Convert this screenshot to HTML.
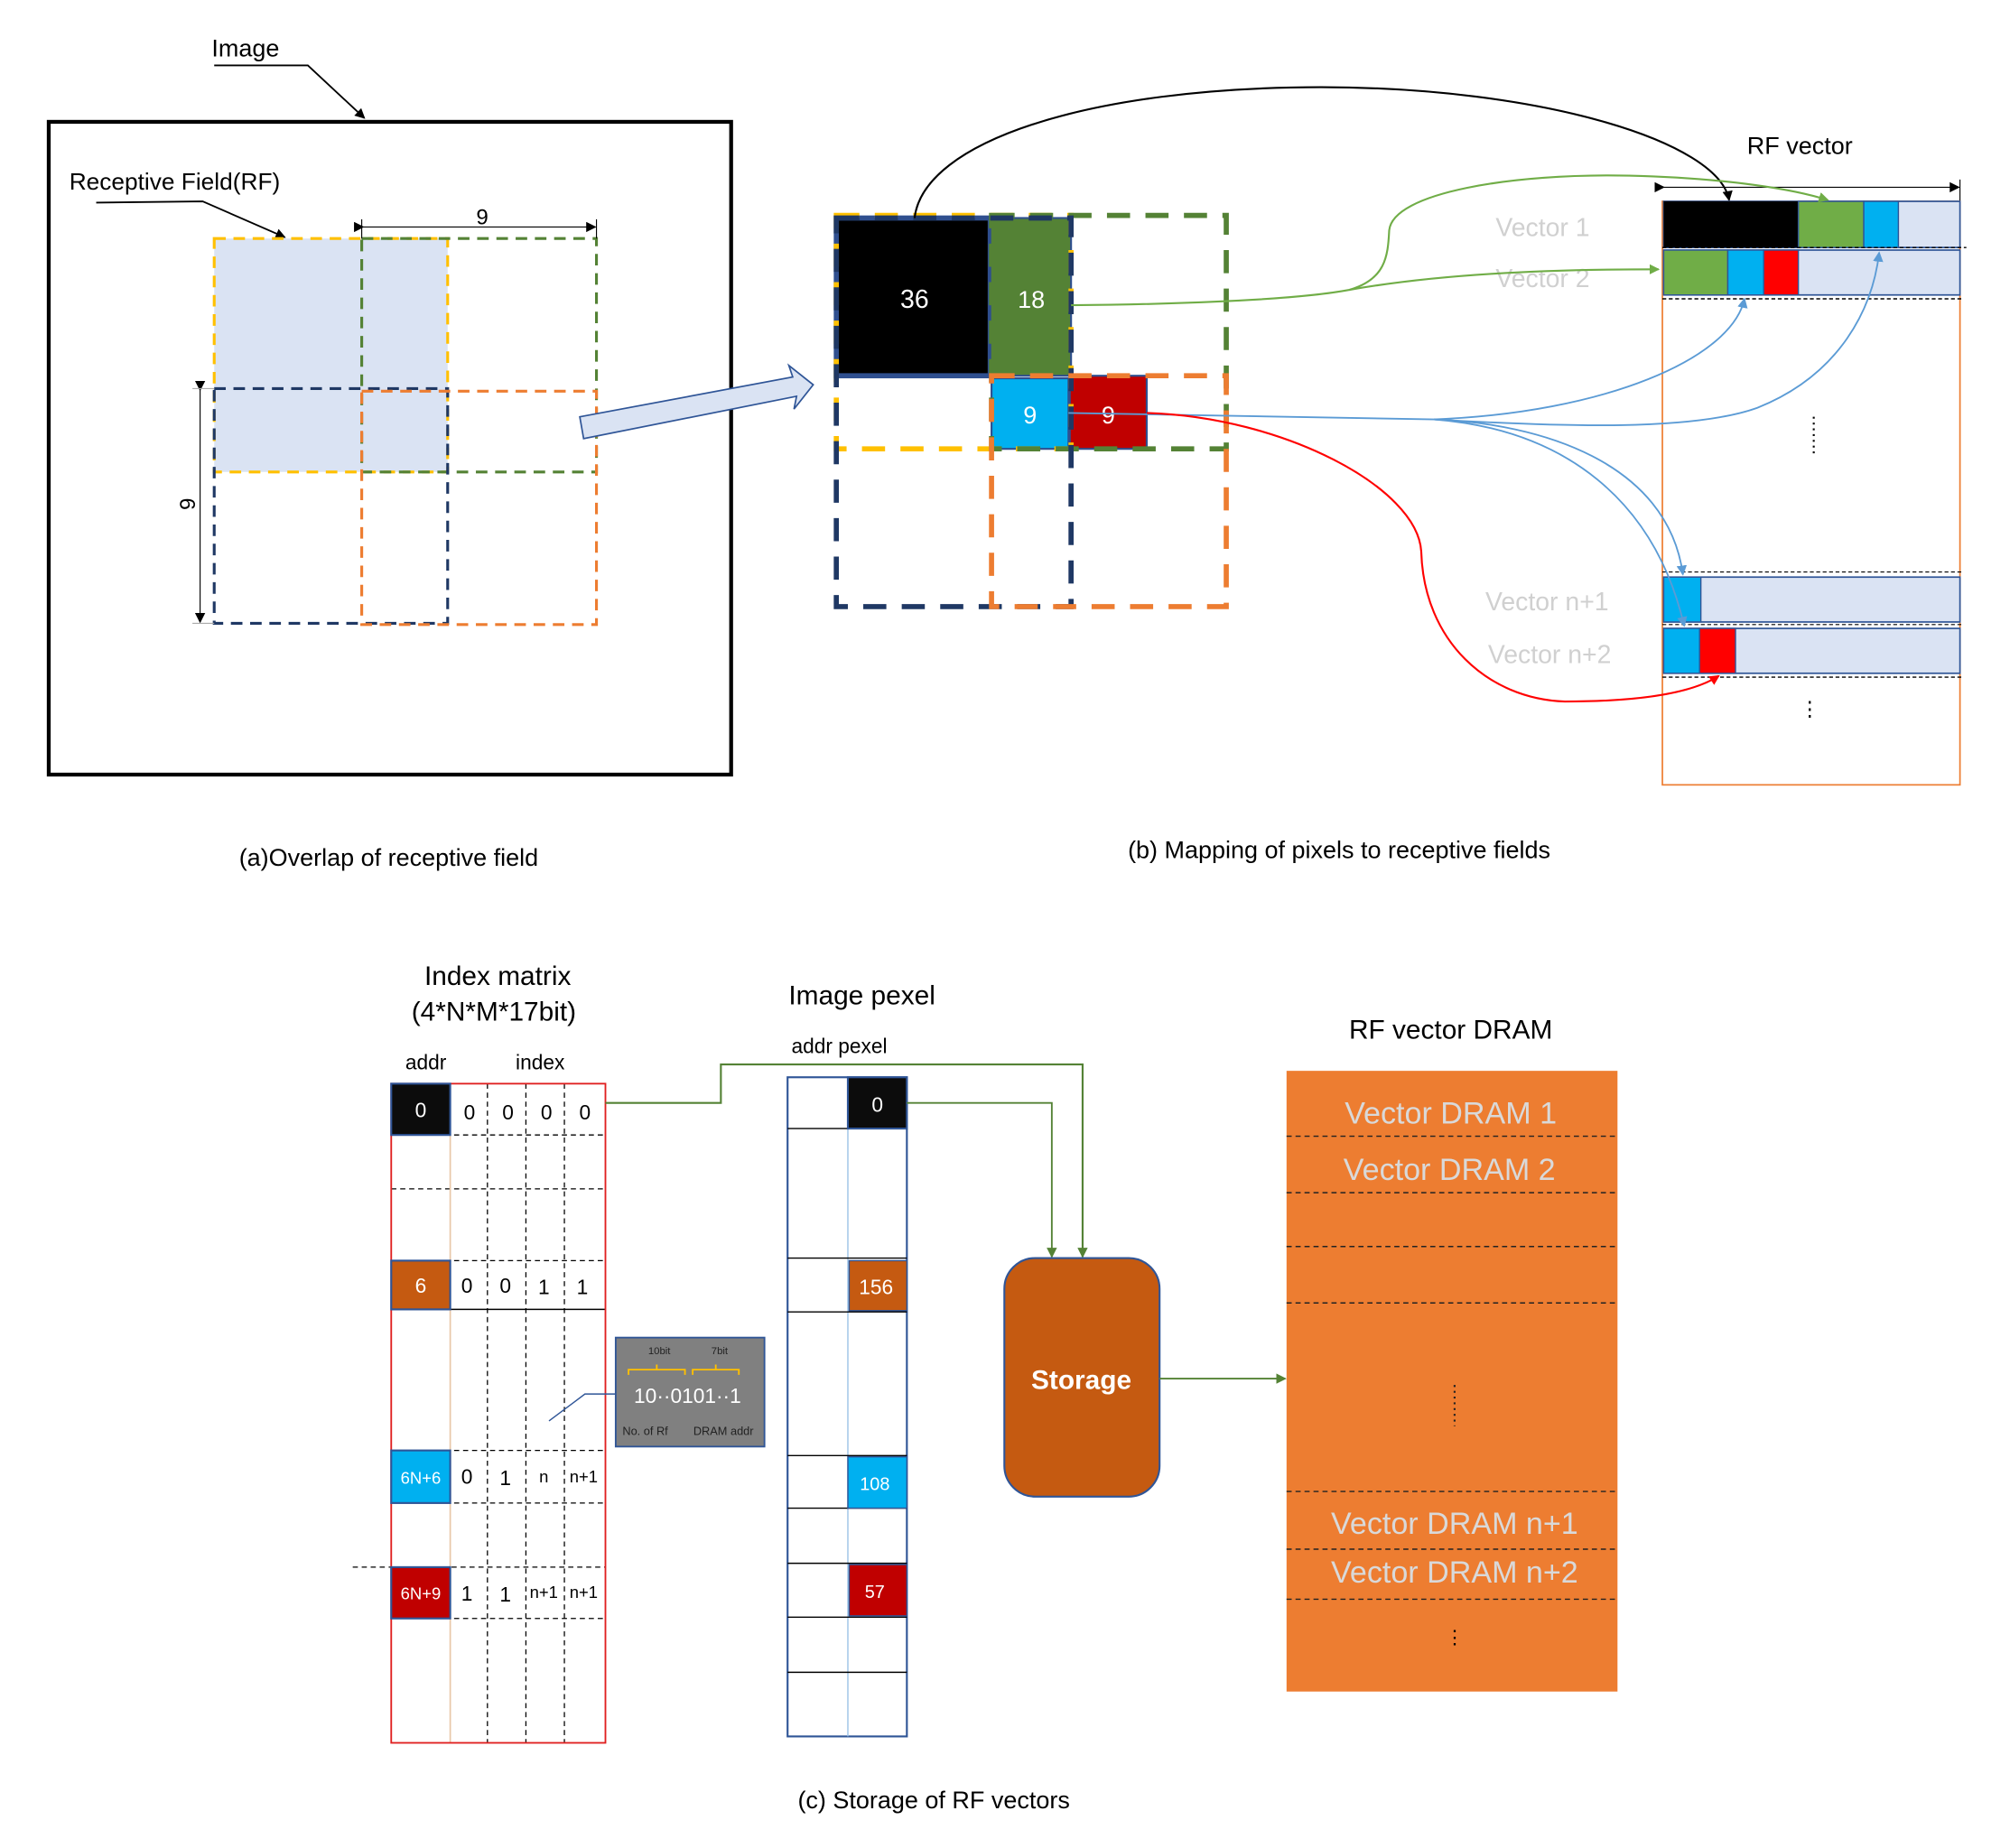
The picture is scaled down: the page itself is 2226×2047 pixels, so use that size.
<!DOCTYPE html>
<html><head><meta charset="utf-8"><style>html,body{margin:0;padding:0;background:#fff}svg{display:block}</style></head>
<body>
<svg width="2226" height="2047" viewBox="0 0 1567 1441" preserveAspectRatio="none" xmlns="http://www.w3.org/2000/svg" font-family="Liberation Sans, sans-serif">
<defs>
<marker id="ak" markerWidth="8" markerHeight="8" refX="7" refY="4" orient="auto" markerUnits="userSpaceOnUse"><path d="M0,0 L8,4 L0,8z" fill="#000"/></marker>
<marker id="ag" markerWidth="8" markerHeight="8" refX="7" refY="4" orient="auto" markerUnits="userSpaceOnUse"><path d="M0,0 L8,4 L0,8z" fill="#70ad47"/></marker>
<marker id="adg" markerWidth="8" markerHeight="8" refX="7" refY="4" orient="auto" markerUnits="userSpaceOnUse"><path d="M0,0 L8,4 L0,8z" fill="#548235"/></marker>
<marker id="ab" markerWidth="8" markerHeight="8" refX="7" refY="4" orient="auto" markerUnits="userSpaceOnUse"><path d="M0,0 L8,4 L0,8z" fill="#5b9bd5"/></marker>
<marker id="ar" markerWidth="8" markerHeight="8" refX="7" refY="4" orient="auto" markerUnits="userSpaceOnUse"><path d="M0,0 L8,4 L0,8z" fill="#ff0000"/></marker>
</defs>

<!-- (a) -->
<text x="165" y="44" font-size="19">Image</text>
<polyline points="167,51 240,51 284,92" fill="none" stroke="#000" stroke-width="1.3" marker-end="url(#ak)"/>
<rect x="38" y="95" width="532" height="509" fill="none" stroke="#000" stroke-width="3"/>
<text x="54" y="148" font-size="18.5">Receptive Field(RF)</text>
<polyline points="75,158 158,157 222,185" fill="none" stroke="#000" stroke-width="1.3" marker-end="url(#ak)"/>
<rect x="167" y="186" width="182" height="182" fill="#dae3f3"/>
<rect x="167" y="186" width="182" height="182" fill="none" stroke="#ffc000" stroke-width="2.2" stroke-dasharray="9,6"/>
<rect x="282" y="186" width="183" height="182" fill="none" stroke="#548235" stroke-width="2.2" stroke-dasharray="9,6"/>
<rect x="167" y="303" width="182" height="183" fill="none" stroke="#1f3864" stroke-width="2.2" stroke-dasharray="9,6"/>
<rect x="282" y="305" width="183" height="182" fill="none" stroke="#ed7d31" stroke-width="2.2" stroke-dasharray="9,6"/>
<line x1="283" y1="177" x2="464" y2="177" stroke="#000" stroke-width="0.8" marker-start="url(#ak)" marker-end="url(#ak)"/>
<line x1="282" y1="171" x2="282" y2="186" stroke="#000" stroke-width="0.8"/>
<line x1="465" y1="171" x2="465" y2="186" stroke="#000" stroke-width="0.8"/>
<text x="376" y="175" font-size="17" text-anchor="middle">9</text>
<line x1="156" y1="304" x2="156" y2="485" stroke="#000" stroke-width="0.8" marker-start="url(#ak)" marker-end="url(#ak)"/>
<line x1="150" y1="303" x2="167" y2="303" stroke="#aaa" stroke-width="0.8"/>
<line x1="150" y1="486" x2="167" y2="486" stroke="#aaa" stroke-width="0.8"/>
<text x="146" y="393" font-size="17" text-anchor="middle" transform="rotate(-90 146 393)" dy="6">9</text>
<path d="M452,325 L618,294 L615,285 L634,300 L619,319 L621,309 L455,342 Z" fill="#dae3f3" stroke="#2f5597" stroke-width="1.2"/>
<text x="303" y="675" font-size="19" text-anchor="middle">(a)Overlap of receptive field</text>

<!-- (b) -->
<rect x="652" y="170" width="120" height="123" fill="#000" stroke="#2f4f8f" stroke-width="4"/>
<text x="713" y="240" font-size="20" fill="#fff" text-anchor="middle">36</text>
<rect x="772" y="170" width="63" height="123" fill="#548235" stroke="#2f4f8f" stroke-width="1.5"/>
<text x="804" y="240" font-size="19" fill="#fff" text-anchor="middle">18</text>
<rect x="773" y="295" width="60" height="55" fill="#00b0f0" stroke="#2f4f8f" stroke-width="1.5"/>
<text x="803" y="330" font-size="19" fill="#fff" text-anchor="middle">9</text>
<rect x="834" y="293" width="60" height="57" fill="#c00000" stroke="#2f4f8f" stroke-width="1.5"/>
<text x="864" y="330" font-size="19" fill="#fff" text-anchor="middle">9</text>
<rect x="652" y="168" width="183" height="182" fill="none" stroke="#ffc000" stroke-width="4" stroke-dasharray="18,12"/>
<rect x="773" y="168" width="183" height="182" fill="none" stroke="#548235" stroke-width="4" stroke-dasharray="18,12"/>
<rect x="652" y="170" width="183" height="303" fill="none" stroke="#1f3864" stroke-width="4" stroke-dasharray="18,12"/>
<rect x="773" y="293" width="183" height="180" fill="none" stroke="#ed7d31" stroke-width="4" stroke-dasharray="18,12"/>

<text x="1362" y="120" font-size="19">RF vector</text>
<line x1="1297" y1="146" x2="1527" y2="146" stroke="#000" stroke-width="0.8" marker-start="url(#ak)" marker-end="url(#ak)"/>
<line x1="1528" y1="140" x2="1528" y2="157" stroke="#000" stroke-width="0.8"/>
<rect x="1296" y="157" width="232" height="455" fill="none" stroke="#ed7d31" stroke-width="1.2"/>
<rect x="1297" y="157" width="231" height="36" fill="#dae3f3" stroke="#2f5597" stroke-width="1.2"/>
<rect x="1297" y="157" width="105" height="36" fill="#000"/>
<rect x="1402" y="157" width="51" height="36" fill="#70ad47" stroke="#2f5597" stroke-width="1"/>
<rect x="1453" y="157" width="27" height="36" fill="#00b0f0" stroke="#2f5597" stroke-width="1"/>
<line x1="1296" y1="193" x2="1533" y2="193" stroke="#000" stroke-width="1" stroke-dasharray="3,2"/>
<rect x="1297" y="195" width="231" height="35" fill="#dae3f3" stroke="#2f5597" stroke-width="1.2"/>
<rect x="1297" y="195" width="50" height="35" fill="#70ad47" stroke="#2f5597" stroke-width="1"/>
<rect x="1347" y="195" width="28" height="35" fill="#00b0f0" stroke="#2f5597" stroke-width="1"/>
<rect x="1375" y="195" width="27" height="35" fill="#ff0000" stroke="#2f5597" stroke-width="1"/>
<line x1="1296" y1="233" x2="1530" y2="233" stroke="#000" stroke-width="1" stroke-dasharray="3,2"/>
<line x1="1414" y1="325" x2="1414" y2="356" stroke="#000" stroke-width="1.5" stroke-dasharray="1.5,3"/>
<line x1="1296" y1="446" x2="1530" y2="446" stroke="#000" stroke-width="0.8" stroke-dasharray="3,2"/>
<rect x="1297" y="450" width="231" height="35" fill="#dae3f3" stroke="#2f5597" stroke-width="1.2"/>
<rect x="1297" y="450" width="29" height="35" fill="#00b0f0" stroke="#2f5597" stroke-width="1"/>
<line x1="1296" y1="487" x2="1530" y2="487" stroke="#000" stroke-width="0.8" stroke-dasharray="3,2"/>
<rect x="1297" y="490" width="231" height="35" fill="#dae3f3" stroke="#2f5597" stroke-width="1.2"/>
<rect x="1297" y="490" width="28" height="35" fill="#00b0f0" stroke="#2f5597" stroke-width="1"/>
<rect x="1325" y="490" width="28" height="35" fill="#ff0000" stroke="#2f5597" stroke-width="1"/>
<line x1="1296" y1="528" x2="1530" y2="528" stroke="#000" stroke-width="1" stroke-dasharray="3,2"/>
<text x="1411" y="558" font-size="16" text-anchor="middle">⋮</text>
<g fill="#d0d0d0" font-size="20">
<text x="1166" y="184">Vector 1</text>
<text x="1166" y="224">Vector 2</text>
<text x="1158" y="476">Vector n+1</text>
<text x="1160" y="517">Vector n+2</text>
</g>

<path d="M713,170 C720,110 850,68 1030,68 C1200,68 1340,110 1348,156" fill="none" stroke="#000" stroke-width="1.5" marker-end="url(#ak)"/>
<path d="M835,238 C950,237 1020,232 1052,226 C1080,218 1082,200 1083,180 C1085,150 1180,135 1270,137 C1350,139 1400,148 1425,156" fill="none" stroke="#70ad47" stroke-width="1.5" marker-end="url(#ag)"/>
<path d="M1052,226 C1120,214 1200,210 1293,210" fill="none" stroke="#70ad47" stroke-width="1.5" marker-end="url(#ag)"/>
<path d="M833,322 C950,324 1050,325 1118,327 C1250,322 1350,280 1360,233" fill="none" stroke="#5b9bd5" stroke-width="1.3" marker-end="url(#ab)"/>
<path d="M1118,327 C1220,333 1320,336 1370,318 C1435,292 1460,240 1465,197" fill="none" stroke="#5b9bd5" stroke-width="1.3" marker-end="url(#ab)"/>
<path d="M1118,327 C1200,330 1300,360 1312,448" fill="none" stroke="#5b9bd5" stroke-width="1.3" marker-end="url(#ab)"/>
<path d="M1118,327 C1220,335 1290,390 1313,488" fill="none" stroke="#5b9bd5" stroke-width="1.3" marker-end="url(#ab)"/>
<path d="M894,322 C1000,325 1105,380 1108,430 C1110,500 1160,545 1220,547 C1280,547 1320,540 1340,527" fill="none" stroke="#ff0000" stroke-width="1.5" marker-end="url(#ar)"/>

<text x="1044" y="669" font-size="19" text-anchor="middle">(b) Mapping of pixels to receptive fields</text>

<!-- (c) -->
<text x="388" y="768" font-size="21" text-anchor="middle">Index matrix</text>
<text x="385" y="796" font-size="21" text-anchor="middle">(4*N*M*17bit)</text>
<text x="316" y="834" font-size="16">addr</text>
<text x="402" y="834" font-size="16">index</text>
<g stroke="#000" stroke-width="0.9" stroke-dasharray="4,3">
<line x1="380" y1="845" x2="380" y2="1359"/>
<line x1="410" y1="845" x2="410" y2="1359"/>
<line x1="440" y1="845" x2="440" y2="1359"/>
<line x1="305" y1="885" x2="472" y2="885"/>
<line x1="305" y1="927" x2="472" y2="927"/>
<line x1="305" y1="983" x2="472" y2="983"/>
<line x1="305" y1="1131" x2="472" y2="1131"/>
<line x1="275" y1="1222" x2="472" y2="1222"/>
<line x1="305" y1="1262" x2="472" y2="1262"/>
<line x1="305" y1="1172" x2="472" y2="1172"/>
</g>
<line x1="305" y1="1021" x2="472" y2="1021" stroke="#000" stroke-width="1"/>
<line x1="351" y1="845" x2="351" y2="1359" stroke="#e8c8a8" stroke-width="1.2"/>
<rect x="305" y="845" width="167" height="514" fill="none" stroke="#e02020" stroke-width="1.3"/>
<rect x="305" y="845" width="46" height="40" fill="#0c0c0c" stroke="#2f5597" stroke-width="1.5"/>
<rect x="305" y="983" width="46" height="38" fill="#c55a11" stroke="#2f5597" stroke-width="1.5"/>
<rect x="305" y="1131" width="46" height="41" fill="#00b0f0" stroke="#2f5597" stroke-width="1.5"/>
<rect x="305" y="1222" width="46" height="40" fill="#c00000" stroke="#2f5597" stroke-width="1.5"/>
<g font-size="16" text-anchor="middle">
<text x="328" y="871" fill="#fff">0</text>
<text x="366" y="873">0</text><text x="396" y="873">0</text><text x="426" y="873">0</text><text x="456" y="873">0</text>
<text x="328" y="1008" fill="#fff">6</text>
<text x="364" y="1008">0</text><text x="394" y="1008">0</text><text x="424" y="1009">1</text><text x="454" y="1009">1</text>
<text x="328" y="1157" fill="#fff" font-size="13">6N+6</text>
<text x="364" y="1157">0</text><text x="394" y="1158">1</text><text x="424" y="1156" font-size="13">n</text><text x="455" y="1156" font-size="13">n+1</text>
<text x="328" y="1247" fill="#fff" font-size="13">6N+9</text>
<text x="364" y="1248">1</text><text x="394" y="1249">1</text><text x="424" y="1246" font-size="13">n+1</text><text x="455" y="1246" font-size="13">n+1</text>
</g>
<polyline points="428,1108 456,1087 480,1087" fill="none" stroke="#2f5597" stroke-width="1"/>
<rect x="480" y="1043" width="116" height="85" fill="#808080" stroke="#2f5597" stroke-width="1.3"/>
<text x="514" y="1056" font-size="8" fill="#222" text-anchor="middle">10bit</text>
<text x="561" y="1056" font-size="8" fill="#222" text-anchor="middle">7bit</text>
<path d="M490,1072 L490,1068 L534,1068 L534,1072 M512,1068 L512,1064 M540,1072 L540,1068 L576,1068 L576,1072 M558,1068 L558,1064" fill="none" stroke="#ffc000" stroke-width="1.3"/>
<text x="536" y="1094" font-size="16" fill="#fff" text-anchor="middle">10··0101··1</text>
<text x="503" y="1119" font-size="9" fill="#222" text-anchor="middle">No. of Rf</text>
<text x="564" y="1119" font-size="9" fill="#222" text-anchor="middle">DRAM addr</text>

<text x="672" y="783" font-size="21" text-anchor="middle">Image pexel</text>
<text x="617" y="821" font-size="16">addr  pexel</text>
<rect x="614" y="840" width="93" height="514" fill="#fff" stroke="#2f5597" stroke-width="1.5"/>
<line x1="661" y1="840" x2="661" y2="1354" stroke="#9dc3e6" stroke-width="1"/>
<g stroke="#000" stroke-width="1">
<line x1="614" y1="880" x2="707" y2="880"/><line x1="614" y1="981" x2="707" y2="981"/>
<line x1="614" y1="1023" x2="707" y2="1023"/><line x1="614" y1="1135" x2="707" y2="1135"/>
<line x1="614" y1="1176" x2="707" y2="1176"/><line x1="614" y1="1219" x2="707" y2="1219"/>
<line x1="614" y1="1261" x2="707" y2="1261"/><line x1="614" y1="1304" x2="707" y2="1304"/>
</g>
<rect x="661" y="840" width="46" height="40" fill="#0c0c0c" stroke="#2f5597" stroke-width="1.5"/>
<rect x="662" y="983" width="45" height="39" fill="#c55a11" stroke="#2f5597" stroke-width="1"/>
<rect x="661" y="1136" width="46" height="40" fill="#00b0f0" stroke="#2f5597" stroke-width="1"/>
<rect x="662" y="1220" width="45" height="40" fill="#c00000" stroke="#2f5597" stroke-width="1"/>
<g fill="#fff" text-anchor="middle">
<text x="684" y="867" font-size="16">0</text>
<text x="683" y="1009" font-size="16">156</text>
<text x="682" y="1162" font-size="14">108</text>
<text x="682" y="1246" font-size="14">57</text>
</g>
<polyline points="472,860 562,860 562,830 844,830 844,980" fill="none" stroke="#548235" stroke-width="1.5" marker-end="url(#adg)"/>
<polyline points="707,860 820,860 820,980" fill="none" stroke="#548235" stroke-width="1.3" marker-end="url(#adg)"/>
<rect x="783" y="981" width="121" height="186" rx="24" fill="#c55a11" stroke="#2f5597" stroke-width="1.5"/>
<text x="843" y="1083" font-size="21" font-weight="bold" fill="#fff" text-anchor="middle">Storage</text>
<line x1="904" y1="1075" x2="1002" y2="1075" stroke="#548235" stroke-width="1.3" marker-end="url(#adg)"/>

<text x="1131" y="810" font-size="21" text-anchor="middle">RF vector DRAM</text>
<rect x="1003" y="835" width="258" height="484" fill="#ed7d31"/>
<g stroke="#222" stroke-width="1" stroke-dasharray="4,3">
<line x1="1003" y1="886" x2="1261" y2="886"/><line x1="1003" y1="930" x2="1261" y2="930"/>
<line x1="1003" y1="972" x2="1261" y2="972"/><line x1="1003" y1="1016" x2="1261" y2="1016"/>
<line x1="1003" y1="1163" x2="1261" y2="1163"/><line x1="1003" y1="1208" x2="1261" y2="1208"/>
<line x1="1003" y1="1247" x2="1261" y2="1247"/>
</g>
<line x1="1134" y1="1080" x2="1134" y2="1112" stroke="#222" stroke-width="1.5" stroke-dasharray="1.5,3"/>
<g fill="#d9d9d9" font-size="24" text-anchor="middle">
<text x="1131" y="876">Vector DRAM 1</text>
<text x="1130" y="920">Vector DRAM 2</text>
<text x="1134" y="1196">Vector DRAM n+1</text>
<text x="1134" y="1234">Vector DRAM n+2</text>
</g>
<text x="1134" y="1282" font-size="15" text-anchor="middle">⋮</text>
<text x="728" y="1410" font-size="19" text-anchor="middle">(c) Storage of RF vectors</text>
</svg>
</body></html>
